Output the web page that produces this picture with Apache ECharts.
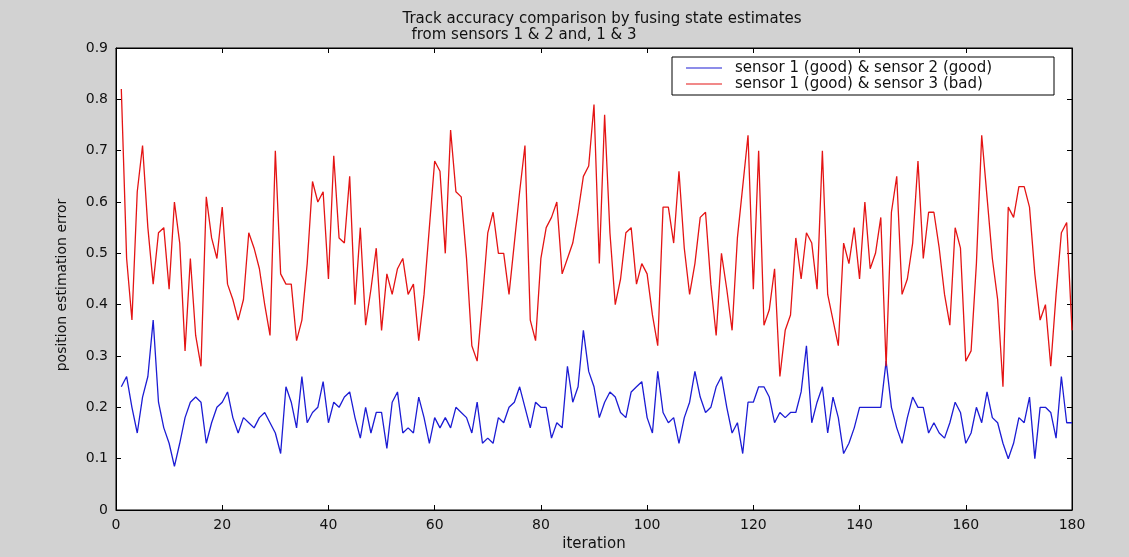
<!DOCTYPE html>
<html>
<head>
<meta charset="utf-8">
<script src="https://cdn.jsdelivr.net/npm/echarts@6/dist/echarts.min.js"></script>
<style>
html,body{margin:0;padding:0;background:#d2d2d2;}
#chart{width:1129px;height:557px;}
</style>
</head>
<body>
<div id="chart"></div>
<script>
const titleLine1 = 'Track accuracy comparison by fusing state estimates';
const titleLine2 = 'from sensors 1 & 2 and, 1 & 3';
const xAxisName = 'iteration';
const yAxisName = 'position estimation error';
const seriesNames = ['sensor 1 (good) & sensor 2 (good)', 'sensor 1 (good) & sensor 3 (bad)'];

// iterations 1..180
const blueValues = [
0.24,0.26,0.20,0.15,0.22,0.26,0.37,0.21,0.16,0.13,
0.085,0.13,0.18,0.21,0.22,0.21,0.13,0.17,0.20,0.21,
0.23,0.18,0.15,0.18,0.17,0.16,0.18,0.19,0.17,0.15,
0.11,0.24,0.21,0.16,0.26,0.17,0.19,0.20,0.25,0.17,
0.21,0.20,0.22,0.23,0.18,0.14,0.20,0.15,0.19,0.19,
0.12,0.21,0.23,0.15,0.16,0.15,0.22,0.18,0.13,0.18,
0.16,0.18,0.16,0.20,0.19,0.18,0.15,0.21,0.13,0.14,
0.13,0.18,0.17,0.20,0.21,0.24,0.20,0.16,0.21,0.20,
0.20,0.14,0.17,0.16,0.28,0.21,0.24,0.35,0.27,0.24,
0.18,0.21,0.23,0.22,0.19,0.18,0.23,0.24,0.25,0.18,
0.15,0.27,0.19,0.17,0.18,0.13,0.18,0.21,0.27,0.22,
0.19,0.20,0.24,0.26,0.20,0.15,0.17,0.11,0.21,0.21,
0.24,0.24,0.22,0.17,0.19,0.18,0.19,0.19,0.23,0.32,
0.17,0.21,0.24,0.15,0.22,0.18,0.11,0.13,0.16,0.20,
0.20,0.20,0.20,0.20,0.29,0.20,0.16,0.13,0.18,0.22,
0.20,0.20,0.15,0.17,0.15,0.14,0.17,0.21,0.19,0.13,
0.15,0.20,0.17,0.23,0.18,0.17,0.13,0.10,0.13,0.18,
0.17,0.22,0.10,0.20,0.20,0.19,0.14,0.26,0.17,0.17
];
const redValues = [
0.82,0.49,0.37,0.62,0.71,0.55,0.44,0.54,0.55,0.43,
0.60,0.52,0.31,0.49,0.34,0.28,0.61,0.53,0.49,0.59,
0.44,0.41,0.37,0.41,0.54,0.51,0.47,0.40,0.34,0.70,
0.46,0.44,0.44,0.33,0.37,0.48,0.64,0.60,0.62,0.45,
0.69,0.53,0.52,0.65,0.40,0.55,0.36,0.43,0.51,0.35,
0.46,0.42,0.47,0.49,0.42,0.44,0.33,0.42,0.55,0.68,
0.66,0.50,0.74,0.62,0.61,0.49,0.32,0.29,0.41,0.54,
0.58,0.50,0.50,0.42,0.52,0.62,0.71,0.37,0.33,0.49,
0.55,0.57,0.60,0.46,0.49,0.52,0.58,0.65,0.67,0.79,
0.48,0.77,0.54,0.40,0.45,0.54,0.55,0.44,0.48,0.46,
0.38,0.32,0.59,0.59,0.52,0.66,0.51,0.42,0.48,0.57,
0.58,0.44,0.34,0.50,0.43,0.35,0.53,0.63,0.73,0.43,
0.70,0.36,0.39,0.47,0.26,0.35,0.38,0.53,0.45,0.54,
0.52,0.43,0.70,0.42,0.37,0.32,0.52,0.48,0.55,0.45,
0.60,0.47,0.50,0.57,0.28,0.58,0.65,0.42,0.45,0.52,
0.68,0.49,0.58,0.58,0.51,0.42,0.36,0.55,0.51,0.29,
0.31,0.48,0.73,0.61,0.49,0.41,0.24,0.59,0.57,0.63,
0.63,0.59,0.46,0.37,0.40,0.28,0.42,0.54,0.56,0.35
];

const toPairs = arr => arr.map((v, i) => [i + 1, v]);
const font = '"DejaVu Sans", "Liberation Sans", sans-serif';
const blue = '#1c1cd4';
const red = '#e41414';

const chart = echarts.init(document.getElementById('chart'), null, {renderer: 'canvas'});
const axisLineStyle = {color: '#000', width: 1};
const baseX = {
  type: 'value', min: 0, max: 180, interval: 20,
  splitLine: {show: false},
  axisLine: {show: true, onZero: false, lineStyle: axisLineStyle},
  axisTick: {show: true, inside: true, length: 5, lineStyle: axisLineStyle}
};
const baseY = {
  type: 'value', min: 0, max: 0.9, interval: 0.1,
  splitLine: {show: false},
  axisLine: {show: true, onZero: false, lineStyle: axisLineStyle},
  axisTick: {show: true, inside: true, length: 5, lineStyle: axisLineStyle}
};

chart.setOption({
  backgroundColor: '#d2d2d2',
  animation: false,
  title: [
    {text: titleLine1, left: 597, top: 7, textAlign: 'center',
     textStyle: {fontFamily: font, fontSize: 15, fontWeight: 'normal', color: '#111'}},
    {text: titleLine2, left: 519, top: 23, textAlign: 'center',
     textStyle: {fontFamily: font, fontSize: 15, fontWeight: 'normal', color: '#111'}}
  ],
  grid: {left: 116, right: 57, top: 48, bottom: 41, show: true, backgroundColor: '#fff', borderColor: '#000', borderWidth: 1},
  legend: {
    orient: 'vertical', left: 672, top: 57,
    data: seriesNames.map(n => ({name: n, icon: 'rect'})),
    backgroundColor: '#fff', borderColor: '#000', borderWidth: 1, borderRadius: 0,
    padding: [3, 62, 3, 14], itemGap: 0, itemWidth: 36, itemHeight: 1.2,
    textStyle: {fontFamily: font, fontSize: 15, color: '#111', lineHeight: 16, padding: [0, 0, 0, 8]}
  },
  xAxis: [
    Object.assign({}, baseX, {
      position: 'bottom', name: xAxisName, nameLocation: 'middle', nameGap: 27,
      nameTextStyle: {fontFamily: font, fontSize: 15, color: '#111'},
      axisLabel: {fontFamily: font, fontSize: 14, color: '#111', margin: 8}
    }),
    Object.assign({}, baseX, {position: 'top', axisLabel: {show: false}})
  ],
  yAxis: [
    Object.assign({}, baseY, {
      position: 'left', name: yAxisName, nameLocation: 'middle', nameGap: 47,
      nameTextStyle: {fontFamily: font, fontSize: 14, color: '#111', padding: [0, 12, 0, 0]},
      axisLabel: {fontFamily: font, fontSize: 14, color: '#111', margin: 8,
        formatter: v => (v === 0 ? '0' : v.toFixed(1))}
    }),
    Object.assign({}, baseY, {position: 'right', axisLabel: {show: false}})
  ],
  series: [
    {name: seriesNames[0], type: 'line', data: toPairs(blueValues), symbol: 'none',
     lineStyle: {color: blue, width: 1.3}, itemStyle: {color: blue}},
    {name: seriesNames[1], type: 'line', data: toPairs(redValues), symbol: 'none',
     lineStyle: {color: red, width: 1.3}, itemStyle: {color: red}}
  ]
});
</script>
</body>
</html>
